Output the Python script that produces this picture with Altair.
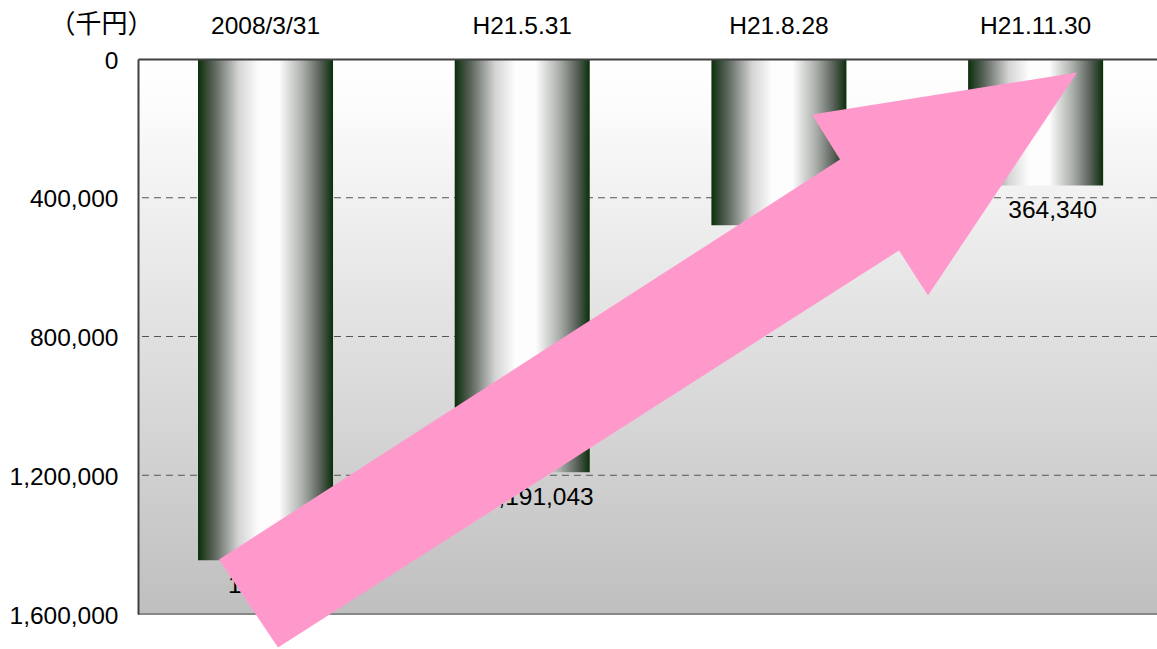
import altair as alt
import pandas as pd

# ---- data ----
dates = ["2008/3/31", "H21.5.31", "H21.8.28", "H21.11.30"]
amounts = [1445000, 1191043, 479100, 364340]
y_ticks = [0, 400000, 800000, 1200000, 1600000]
grid_values = [400000, 800000, 1200000]
unit_label = "（千円）"

# ---- styling ----
W, H = 1019, 555
FONT = "Liberation Sans"
CJK = "Noto Sans CJK JP"
FS = 24.5
ARROW_PATH = ("M81,500.5 L702,100.5 L674,55.5 L939,13.5 "
              "L790,236.5 L761,191.5 L140,588.5 Z")

df = pd.DataFrame({"date": dates, "amount": amounts})
df["label"] = [f"{v:,}" for v in amounts]

yscale = alt.Scale(domain=[0, 1600000], reverse=True, nice=False)
xscale = alt.Scale(paddingInner=0.474, paddingOuter=0.2218, align=0.527)

xaxis = alt.Axis(orient="top", title=None, ticks=False, tickSize=0,
                 labelAngle=0, labelFontSize=FS, labelFont=FONT,
                 labelColor="#000000", labelPadding=21,
                 domainColor="#404040", domainWidth=2, zindex=1)
yaxis = alt.Axis(values=y_ticks, format=",d", grid=False,
                 ticks=False, tickSize=0, labelFontSize=FS,
                 labelFont=FONT, labelColor="#000000",
                 labelPadding=20, labelFlush=False, labelOffset=2,
                 domainColor="#404040", domainWidth=2, zindex=1,
                 title=unit_label, titleAngle=0, titleX=-37,
                 titleY=-35, titleAlign="center",
                 titleBaseline="middle", titleFontSize=26,
                 titleFont=CJK, titleFontWeight="normal",
                 titleColor="#000000")

bg_grad = alt.Gradient(
    gradient="linear", x1=0, x2=0, y1=0, y2=1,
    stops=[alt.GradientStop(offset=0, color="#ffffff"),
           alt.GradientStop(offset=0.08, color="#fcfcfc"),
           alt.GradientStop(offset=1, color="#bfbfbf")])

bar_grad = alt.Gradient(
    gradient="linear", x1=0, x2=1, y1=0, y2=0,
    stops=[alt.GradientStop(offset=0, color="#0b2e0b"),
           alt.GradientStop(offset=0.12, color="#5c655c"),
           alt.GradientStop(offset=0.3, color="#d4d4d4"),
           alt.GradientStop(offset=0.45, color="#fdfdfd"),
           alt.GradientStop(offset=0.6, color="#fdfdfd"),
           alt.GradientStop(offset=0.78, color="#a8aca8"),
           alt.GradientStop(offset=0.9, color="#5c645c"),
           alt.GradientStop(offset=1, color="#0b2e0b")])

one = alt.Data(values=[{"k": 1}])

bg = alt.Chart(one).mark_rect(color=bg_grad).encode(
    x=alt.value(0), x2=alt.value("width"),
    y=alt.value(0), y2=alt.value("height"))

grid = alt.Chart(pd.DataFrame({"amount": grid_values})).mark_rule(
    color="#555555", strokeDash=[7, 5], strokeWidth=1).encode(
    y=alt.Y("amount:Q", scale=yscale, axis=yaxis))

bars = alt.Chart(df).mark_bar(color=bar_grad).encode(
    x=alt.X("date:N", sort=dates, scale=xscale, axis=xaxis),
    y=alt.Y("amount:Q", scale=yscale, axis=yaxis))

labels = alt.Chart(df).mark_text(
    fontSize=FS, font=FONT, color="#000000", dx=17, dy=26,
    baseline="middle").encode(
    x=alt.X("date:N", sort=dates, scale=xscale, axis=xaxis),
    y=alt.Y("amount:Q", scale=yscale, axis=yaxis),
    text="label:N")

border = alt.Chart(one).mark_rule(color="#888888", strokeWidth=2).encode(
    x=alt.value(0), x2=alt.value("width"), y=alt.value("height"))

arrow = alt.Chart(one).mark_point(
    shape=ARROW_PATH, size=4, filled=True, color="#ff99cc",
    opacity=1, strokeWidth=0).encode(
    x=alt.value(0), y=alt.value(0))

chart = alt.layer(bg, grid, bars, labels, border, arrow).properties(
    width=W, height=H,
    padding={"left": 138, "top": 59, "right": 0, "bottom": 35},
    autosize=alt.AutoSizeParams(type="none"),
    background="#ffffff",
).configure_view(stroke=None)

chart.save("out.html", embed_options={"renderer": "svg", "actions": False})
